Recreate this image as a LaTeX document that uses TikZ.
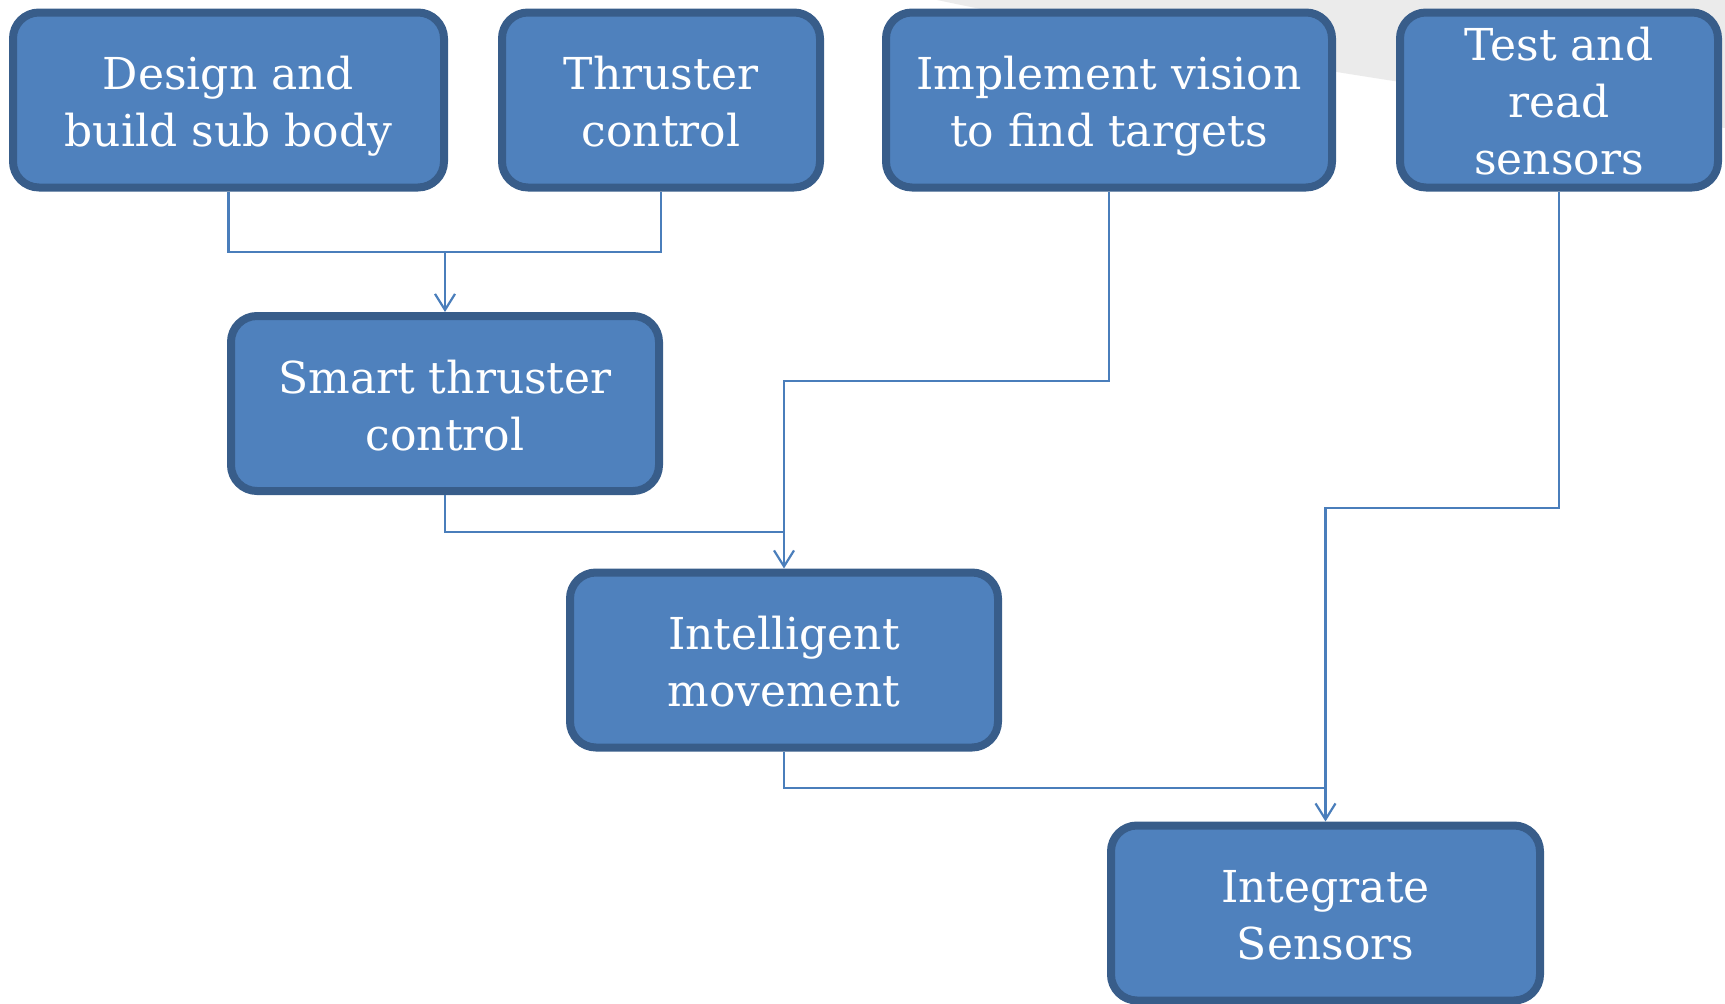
\documentclass[tikz,border=0pt]{standalone}
\usepackage{fontspec}
\setmainfont{DejaVu Serif}
\usetikzlibrary{arrows.meta}
\definecolor{boxfill}{HTML}{4F81BD}
\definecolor{boxline}{HTML}{385D8A}
\definecolor{wire}{HTML}{4A7EBB}
\definecolor{paleback}{HTML}{EBEBEB}
% centred stack of lines; the first-row strut (optional argument) places the label
\newcommand\stacktext[2][54pt]{\begin{tabular}{@{}c@{}}\rule{0pt}{#1}#2\end{tabular}}
% taller stack that takes no room: first baseline sits #1 above the box centre
\newcommand\stacktop[2]{\raisebox{#1}[0pt][0pt]{\begin{tabular}[t]{@{}c@{}}#2\end{tabular}}}
\tikzset{
  taskbox/.style={draw=boxline, fill=boxfill, line width=8pt, rounded corners=26pt,
    inner sep=0pt, minimum height=175pt, text=white,
    font=\fontsize{44}{57}\selectfont},
  link/.style={draw=wire, line width=2.2pt,
    -{Straight Barb[length=16pt,width=20pt,line width=2.2pt]}},
  plain/.style={draw=wire, line width=2.2pt}
}
\begin{document}
\begin{tikzpicture}[x=1pt,y=-1pt]
\useasboundingbox (0,0) rectangle (1725,1004);
% pale backdrop sweeping across the upper right
\fill[paleback] (937,0) .. controls (1150,45) and (1500,100) .. (1725,128) -- (1725,0) -- cycle;

% tasks
\node[taskbox, minimum width=431pt] (design) at (228.5,100) {\stacktext{Design and\\build sub body}};
\node[taskbox, minimum width=318pt] (thrust) at (661,100) {\stacktext{Thruster\\control}};
\node[taskbox, minimum width=446pt] (vision) at (1109,100) {\stacktext{Implement vision\\to find targets}};
\node[taskbox, minimum width=318pt] (sense) at (1559,100) {\stacktop{40pt}{Test and\\read\\sensors}};
\node[taskbox, minimum width=428pt] (smart) at (445,403.5) {\stacktext{Smart thruster\\control}};
\node[taskbox, minimum width=428pt] (move) at (784,660) {\stacktext{Intelligent\\movement}};
\node[taskbox, minimum width=429pt] (integ) at (1325.5,913) {\stacktext{Integrate\\Sensors}};

% dependencies
\coordinate (j1) at (445,252);
\draw[plain] (design.south) |- (j1);
\draw[plain] (thrust.south) |- (j1);
\draw[link] (j1) -- (smart.north);
\draw[link] (vision.south) |- (784,381) -- (move.north);
\draw[plain] (smart.south) |- (784,532);
\draw[link] (sense.south) |- (1325.5,508) -- (integ.north);
\draw[plain] (move.south) |- (1325.5,788);
\end{tikzpicture}
\end{document}
